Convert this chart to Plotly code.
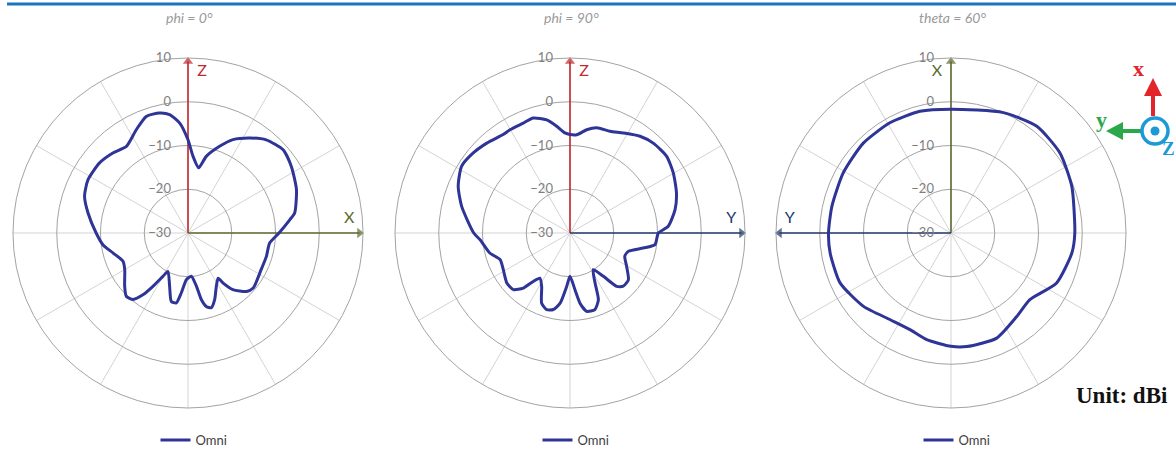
import plotly.graph_objects as go

# ---------------- data ----------------
# phi = 0 deg cut: angle measured from +Z towards +X (deg), gain in dBi
phi0_angle = [0, 3.7, 9.3, 13.4, 20, 25.7, 33, 40, 48.8, 57.2, 68.2, 79.4, 82.5, 90, 97,
              106.6, 116.6, 130.2, 135, 141.6, 145, 146.3, 152, 158.2, 162.7, 166, 168.7,
              171, 175.6, 182, 186.4, 189.5, 193.7, 199, 207.6, 210, 213.3, 216, 219.5,
              224.3, 230, 240, 246.5, 255, 262, 270, 281.3, 289.6, 298, 308.4, 316.8,
              324.6, 333.4, 340.3, 346.7, 351.2, 355.7]
phi0_gain = [-8.7, -12.4, -14.9, -12.0, -8.9, -6.3, -4.1, -2.2, -1.1, -1.9, -3.3, -5.2,
             -6.5, -9.2, -11.2, -11.3, -11.3, -10.5, -11.1, -13.5, -16.1, -17.6, -16.2,
             -13.6, -12.1, -12.7, -14.5, -17.7, -20.1, -19.3, -16.2, -13.8, -13.9, -17.1,
             -20.1, -18.6, -15.4, -12.6, -10.3, -9.8, -11.1, -13.3, -13.8, -12.3, -10.4,
             -9.0, -6.7, -4.9, -4.1, -4.2, -4.9, -5.7, -3.6, -1.7, -1.8, -2.6, -4.8]

# phi = 90 deg cut: angle measured from +Z towards +Y (deg), gain in dBi
phi90_angle = [0, 3.9, 9.2, 14.3, 21.5, 28, 35.9, 42.8, 51.6, 59.9, 69.4, 77.5, 86.1, 90,
               97.8, 101.6, 107.4, 113, 120.4, 128.7, 135, 138.8, 142.4, 147.6, 153.4,
               157, 162, 168, 171.9, 175, 180, 183.5, 188, 192.3, 196.9, 202, 208, 213.7,
               217.2, 220.3, 225, 231.7, 241.2, 249.1, 256, 265.7, 270, 283.8, 292.7,
               301.6, 309.6, 317.2, 325.8, 329.8, 337, 342.3, 348.4, 352.9, 357.1]
phi90_gain = [-7.5, -7.5, -6.1, -5.2, -5.0, -4.1, -2.7, -2.0, -1.8, -2.7, -4.0, -5.4, -7.5,
              -9.8, -10.4, -12.9, -16.0, -16.4, -15.0, -12.9, -12.8, -13.8, -17.5, -20.1,
              -17.2, -13.4, -11.6, -11.7, -13.8, -17.0, -20.1, -17.8, -13.8, -12.1, -11.7,
              -12.7, -16.2, -17.6, -16.1, -13.5, -11.7, -11.6, -12.6, -12.9, -11.1, -9.4,
              -8.0, -4.5, -2.3, -0.9, -1.3, -2.0, -2.8, -2.7, -2.7, -2.4, -3.6, -5.4, -7.1]

# theta = 60 deg cut: phi measured from +X towards +Y (deg), gain in dBi
theta60_phi = [0, 14.3, 29, 44.3, 61, 77.4, 90, 99.4, 114.2, 130, 145, 157, 167.2, 180,
               188, 203.5, 218.2, 229.8, 244.7, 260.6, 270, 291.1, 306.3, 321.2, 336.5]
theta60_gain = [-1.7, -1.3, -1.2, -1.3, -1.8, -2.1, -2.0, -2.0, -2.2, -3.9, -5.8, -6.0,
                -5.0, -4.1, -3.8, -3.8, -5.7, -6.4, -3.3, -2.0, -1.7, -0.4, 0.9, 1.3, 0.0]

radial_ticks = [-30, -20, -10, 0, 10]
titles = ["phi = 0°", "phi = 90°", "theta = 60°"]
series_name = "Omni"

# ---------------- styling / layout constants ----------------
W, H = 1176, 451
R = 175
centers = [(188, 233), (570, 233), (951, 233)]
CURVE = "#2e3596"
RED = "#c0282d"
OLIVE = "#5b6b30"
NAVY = "#203a6a"
FONT = "Lato"


def px(x):
    return x / W


def py(y):
    return 1 - y / H


fig = go.Figure()

cuts = [
    (phi0_angle, phi0_gain, "clockwise",
     [("Z", RED, 0), ("X", OLIVE, 90)]),
    (phi90_angle, phi90_gain, "clockwise",
     [("Z", RED, 0), ("Y", NAVY, 90)]),
    (theta60_phi, theta60_gain, "counterclockwise",
     [("X", OLIVE, 0), ("Y", NAVY, 90)]),
]

for i, (ang, gain, direction, axes) in enumerate(cuts):
    sub = "polar" if i == 0 else f"polar{i + 1}"
    leg = "legend" if i == 0 else f"legend{i + 1}"
    # axis arrows
    for lab, col, th in axes:
        fig.add_trace(go.Scatterpolar(
            r=[radial_ticks[0], radial_ticks[-1] - 0.8], theta=[th, th],
            mode="lines+markers", subplot=sub, showlegend=False, hoverinfo="skip",
            line=dict(color=col, width=1.6),
            marker=dict(symbol="triangle-up", size=[0, 9], color=col,
                        angleref="previous", line=dict(width=0)),
        ))
        off = 5 if th == 0 else -5
        fig.add_trace(go.Scatterpolar(
            r=[7], theta=[th + off], mode="text", text=[lab], subplot=sub,
            showlegend=False, hoverinfo="skip",
            textfont=dict(color=col, size=16, family=FONT),
        ))
    # pattern curve (closed)
    fig.add_trace(go.Scatterpolar(
        r=gain + [gain[0]], theta=ang + [ang[0]], mode="lines", subplot=sub,
        name=series_name, legend=leg, showlegend=True,
        line=dict(color=CURVE, width=3, shape="spline", smoothing=0.6),
    ))

    cx, cy = centers[i]
    polar = dict(
        domain=dict(x=[px(cx - R), px(cx + R)], y=[py(cy + R), py(cy - R)]),
        bgcolor="white",
        radialaxis=dict(
            range=[radial_ticks[0], radial_ticks[-1]], tickvals=radial_ticks,
            angle=90, tickangle=90, side="counterclockwise", showline=False,
            ticks="outside", ticklen=12, tickcolor="rgba(0,0,0,0)",
            gridcolor="#a3a3a3", gridwidth=1,
            tickfont=dict(family=FONT, size=13, color="#7f7f7f"),
        ),
        angularaxis=dict(
            rotation=90, direction=direction, tickvals=list(range(0, 360, 30)),
            showticklabels=False, ticks="", gridcolor="#d3d3d3", gridwidth=1,
            showline=True, linecolor="#a3a3a3", linewidth=1,
        ),
    )
    fig.layout[sub] = polar
    fig.layout[leg] = dict(
        x=px(cx + 6), y=py(440), xanchor="center", yanchor="middle",
        orientation="h", bgcolor="rgba(0,0,0,0)",
        font=dict(family=FONT, size=13, color="#404040"),
    )
    fig.add_annotation(
        x=px(cx + 1), y=py(17), xref="paper", yref="paper", text=titles[i],
        xanchor="center", yanchor="middle",
        showarrow=False, font=dict(family=FONT, size=14, color="#9a9a9a", style="italic"),
    )

# top rule
fig.add_shape(type="line", xref="paper", yref="paper", x0=px(7), x1=1, y0=py(4), y1=py(4),
              line=dict(color="#1b75bc", width=3))

# coordinate triad (decoration)
fig.add_shape(type="line", xref="paper", yref="paper", x0=px(1153), x1=px(1153),
              y0=py(116), y1=py(93), line=dict(color="#e3242b", width=4))
fig.add_shape(type="path", xref="paper", yref="paper",
              path=f"M {px(1144)} {py(96)} L {px(1162)} {py(96)} L {px(1153)} {py(78)} Z",
              fillcolor="#e3242b", line=dict(width=0))
fig.add_shape(type="line", xref="paper", yref="paper", x0=px(1141), x1=px(1121),
              y0=py(131), y1=py(131), line=dict(color="#2ba84a", width=4))
fig.add_shape(type="path", xref="paper", yref="paper",
              path=f"M {px(1123)} {py(122)} L {px(1123)} {py(140)} L {px(1106)} {py(131)} Z",
              fillcolor="#2ba84a", line=dict(width=0))
fig.add_shape(type="circle", xref="paper", yref="paper", x0=px(1142), x1=px(1168),
              y0=py(144), y1=py(118), line=dict(color="#1d9ad6", width=3.5), fillcolor="white")
fig.add_shape(type="circle", xref="paper", yref="paper", x0=px(1150.5), x1=px(1159.5),
              y0=py(135.5), y1=py(126.5), line=dict(width=0), fillcolor="#1d9ad6")
for t, c, x, y, s in [("x", "#e3242b", 1138, 69, 22), ("y", "#2ba84a", 1101, 119, 22),
                      ("Z", "#1d9ad6", 1168, 149, 19)]:
    fig.add_annotation(x=px(x), y=py(y), xref="paper", yref="paper", text=f"<b>{t}</b>",
                       xanchor="center", yanchor="middle",
                       showarrow=False, font=dict(family="Liberation Serif", size=s, color=c))
fig.add_annotation(x=px(1122), y=py(395), xref="paper", yref="paper", text="<b>Unit: dBi</b>",
                   xanchor="center", yanchor="middle",
                   showarrow=False, font=dict(family="Liberation Serif", size=23, color="#111111"))

fig.update_layout(
    width=W, height=H, margin=dict(l=0, r=0, t=0, b=0, autoexpand=False),
    paper_bgcolor="white", plot_bgcolor="white",
)

fig.write_html(
    "out.html",
    config={"displayModeBar": False},
    post_script="document.body.style.margin='0';document.body.style.overflow='hidden';",
)
